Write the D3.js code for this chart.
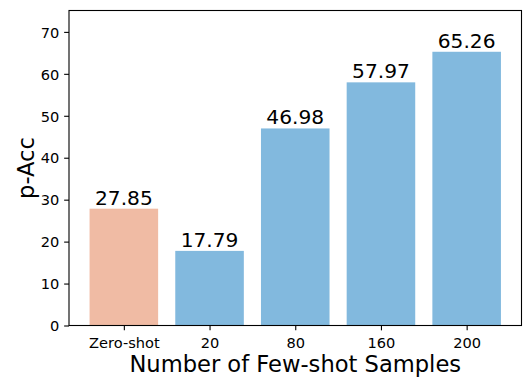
<!DOCTYPE html>
<html>
<head>
<meta charset="utf-8">
<script src="https://cdn.jsdelivr.net/npm/d3@7/dist/d3.min.js"></script>
<style>
  body { margin: 0; background: #fff; }
  svg text { font-family: "DejaVu Sans", sans-serif; fill: #000; }
  .tick line { stroke: #000; stroke-width: 1.1px; }
  .tick text { font-size: 14.6px; }
</style>
</head>
<body>
<div id="chart"></div>
<script>
// values
var categories = ["Zero-shot", "20", "80", "160", "200"];
var values = [27.85, 17.79, 46.98, 57.97, 65.26];
var barColors = ["#f0bba4", "#82b9de", "#82b9de", "#82b9de", "#82b9de"];
var yTicks = [0, 10, 20, 30, 40, 50, 60, 70];

var width = 532, height = 390;
// plot box (note: "top" is reserved on window, so use own names)
var plotL = 69, plotR = 521.5, plotT = 10.5, plotB = 325.5;

var svg = d3.select("#chart").append("svg")
    .attr("width", width)
    .attr("height", height);

var x = d3.scaleLinear().domain([-0.64, categories.length - 1 + 0.64]).range([plotL, plotR]);
var y = d3.scaleLinear().domain([0, 75.1]).range([plotB, plotT]);
var barW = 0.8;

svg.selectAll("rect.bar")
    .data(values)
    .enter().append("rect")
    .attr("class", "bar")
    .attr("x", function (d, i) { return x(i - barW / 2); })
    .attr("width", function () { return x(barW) - x(0); })
    .attr("y", function (d) { return y(d); })
    .attr("height", function (d) { return y(0) - y(d); })
    .style("fill", function (d, i) { return barColors[i]; });

svg.selectAll("text.val")
    .data(values)
    .enter().append("text")
    .attr("class", "val")
    .attr("x", function (d, i) { return x(i); })
    .attr("y", function (d) { return y(d) - 4; })
    .attr("text-anchor", "middle")
    .style("font-size", "20.2px")
    .text(function (d) { return d.toFixed(2); });

var yAxis = svg.append("g")
    .attr("transform", "translate(" + plotL + ",0)")
    .call(d3.axisLeft(y).tickValues(yTicks).tickSize(4.86).tickPadding(4.86));
yAxis.select(".domain").remove();
yAxis.selectAll(".tick text").attr("dy", "0.36em").style("font-family", "DejaVu Sans");

var xAxis = svg.append("g")
    .attr("transform", "translate(0," + plotB + ")")
    .call(d3.axisBottom(x).tickValues(d3.range(categories.length))
        .tickFormat(function (d) { return categories[d]; })
        .tickSize(4.86).tickPadding(4.86));
xAxis.select(".domain").remove();
xAxis.selectAll(".tick text").attr("dy", "0.9em").style("font-family", "DejaVu Sans");

// frame
svg.append("rect")
    .attr("x", plotL)
    .attr("y", plotT)
    .attr("width", plotR - plotL)
    .attr("height", plotB - plotT)
    .style("fill", "none")
    .style("stroke", "#000")
    .style("stroke-width", 1.1);

svg.append("text")
    .attr("x", (plotL + plotR) / 2)
    .attr("y", 372)
    .attr("text-anchor", "middle")
    .style("font-size", "22.6px")
    .text("Number of Few-shot Samples");

svg.append("text")
    .attr("transform", "translate(33.5," + (plotT + plotB) / 2 + ") rotate(-90)")
    .attr("text-anchor", "middle")
    .style("font-size", "22.6px")
    .text("p-Acc");
</script>
</body>
</html>
